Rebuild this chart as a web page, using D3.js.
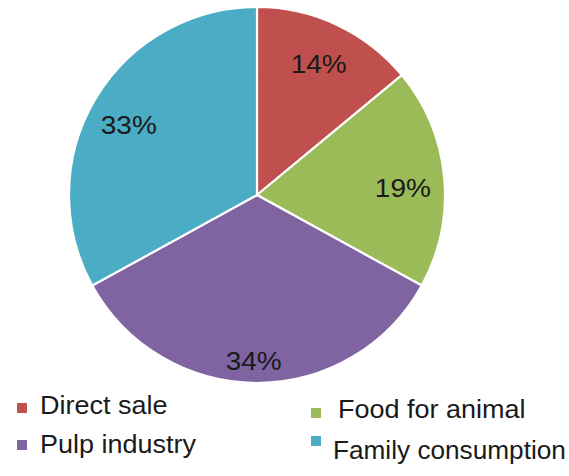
<!DOCTYPE html>
<html>
<head>
<meta charset="utf-8">
<script src="https://cdn.jsdelivr.net/npm/d3@7"></script>
<style>
  html, body { margin: 0; padding: 0; background: #fff; }
  svg { display: block; }
  text { font-family: "Liberation Sans", Arial, sans-serif; fill: #1a1a1a; }
</style>
</head>
<body>
<svg id="chart" width="569" height="476"></svg>
<script>
// Data
const categories = ["Direct sale", "Food for animal", "Pulp industry", "Family consumption"];
const values = [14, 19, 34, 33];
const colors = ["#C0504D", "#9BBB59", "#8064A2", "#4BACC6"];

const W = 569, H = 476;
const cx = 257, cy = 195, R = 188;
const svg = d3.select("#chart");

const data = categories.map((c, i) => ({ name: c, value: values[i], color: colors[i] }));

const pie = d3.pie().value(d => d.value).sort(null);
const arcs = pie(data);
const arc = d3.arc().innerRadius(0).outerRadius(R);

const g = svg.append("g").attr("transform", `translate(${cx},${cy})`);

g.selectAll("path.slice")
  .data(arcs)
  .join("path")
  .attr("class", "slice")
  .attr("d", arc)
  .attr("fill", d => d.data.color)
  .attr("stroke", "#fff")
  .attr("stroke-width", 2.2)
  .attr("stroke-linejoin", "round");

// label placement (layout, best-fit style)
const labelR = { "Direct sale": 145, "Food for animal": 146, "Pulp industry": 166, "Family consumption": 146 };
const labelAngleShift = { "Direct sale": 0, "Food for animal": 0.045, "Pulp industry": 0.02, "Family consumption": -0.035 };

g.selectAll("text.pct")
  .data(arcs)
  .join("text")
  .attr("class", "pct")
  .attr("transform", d => {
    const a = (d.startAngle + d.endAngle) / 2 + labelAngleShift[d.data.name];
    const r = labelR[d.data.name];
    const x = Math.sin(a) * r, y = -Math.cos(a) * r;
    return `translate(${x},${y}) scale(1.12,1)`;
  })
  .attr("text-anchor", "middle")
  .attr("dy", "0.36em")
  .style("font-size", "25px")
  .text(d => d3.format(".0%")(d.data.value / d3.sum(values)));

// Legend
const legendPos = [
  { sx: 17, sy: 403, tx: 40, ty: 414 },
  { sx: 311, sy: 408, tx: 338, ty: 418 },
  { sx: 17, sy: 440, tx: 40, ty: 453 },
  { sx: 311, sy: 436, tx: 333, ty: 459 }
];

const leg = svg.append("g").attr("class", "legend");
data.forEach((d, i) => {
  const p = legendPos[i];
  leg.append("rect")
    .attr("x", p.sx).attr("y", p.sy)
    .attr("width", 10).attr("height", 10)
    .attr("fill", d.color);
  const t = leg.append("text")
    .style("font-size", "25px")
    .text(d.name);
  const len = t.node().getComputedTextLength();
  const sx = Math.min(1.08, (W - 3 - p.tx) / len);
  t.attr("transform", `translate(${p.tx},${p.ty}) scale(${sx},1)`);
});
</script>
</body>
</html>
